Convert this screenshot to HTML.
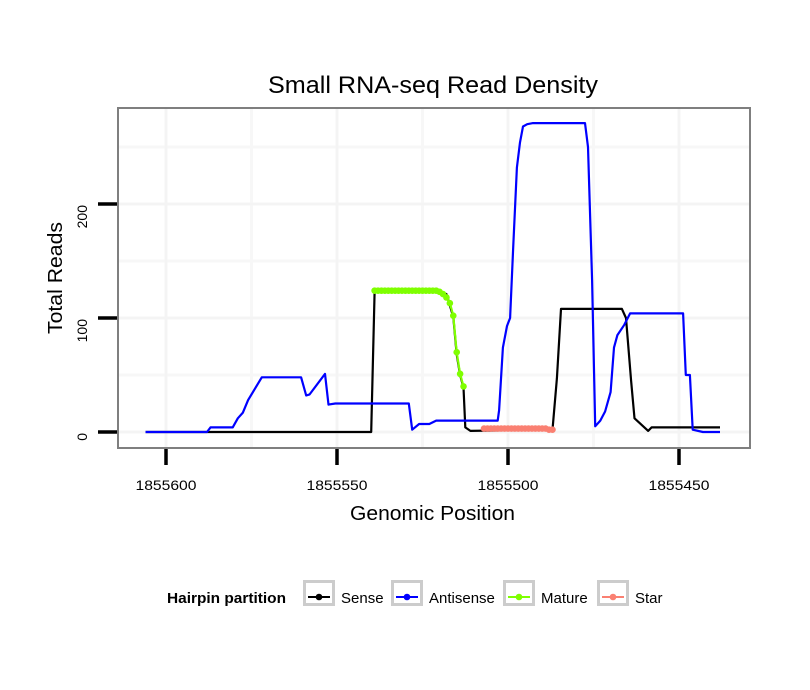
<!DOCTYPE html>
<html><head><meta charset="utf-8"><style>
body{margin:0;background:#fff;}
svg{display:block;font-family:"Liberation Sans",sans-serif;}
</style></head><body>
<svg id="chart" width="810" height="690"></svg>
<script>
const xTicks=[1855600,1855550,1855500,1855450];
const yTicks=[0,100,200];
const senseX=[1855606,1855540,1855539,1855520,1855518,1855517,1855516,1855515,1855514,1855513,1855512.5,1855511,1855487,1855485.7,1855484.5,1855466.7,1855465.5,1855464,1855463,1855459,1855458,1855438];
const senseY=[0,0,123,123,121,111,101,68,50,39,4,1,2,47,108,108,100,45,12,1,4,4];
const antiX=[1855606,1855588,1855587,1855580.5,1855579,1855577.5,1855576,1855572,1855560.5,1855559,1855558,1855553.5,1855552.5,1855550.5,1855529,1855528,1855526,1855523,1855521,1855503,1855502.6,1855501.5,1855500.3,1855499.4,1855498.5,1855497.4,1855496.5,1855495.6,1855494.4,1855492.7,1855477.5,1855476.6,1855475.4,1855474.5,1855473,1855471.6,1855470,1855469,1855468,1855466,1855464.3,1855448.8,1855448,1855446.8,1855446,1855443,1855438];
const antiY=[0,0,4,4,12,17,28,48,48,32,33,51,24,25,25,2,7,7,10,10,19,74,93,100,160,232,254,268,270,271,271,250,133,5,10,18,35,74,85,94,104,104,50,50,2,0,0];
const matureX=[1855539,1855538,1855537,1855536,1855535,1855534,1855533,1855532,1855531,1855530,1855529,1855528,1855527,1855526,1855525,1855524,1855523,1855522,1855521,1855520,1855519,1855518,1855517,1855516,1855515,1855514,1855513];
const matureY=[124,124,124,124,124,124,124,124,124,124,124,124,124,124,124,124,124,124,124,123,121,118,113,102,70,51,40];
const starX=[1855507,1855506,1855505,1855504,1855503,1855502,1855501,1855500,1855499,1855498,1855497,1855496,1855495,1855494,1855493,1855492,1855491,1855490,1855489,1855488,1855487];
const starY=[3,3,3,3,3,3,3,3,3,3,3,3,3,3,3,3,3,3,3,2,2];

const NS='http://www.w3.org/2000/svg';
const svg=document.getElementById('chart');
function sx(p){return 508+(1855500-p)*3.42;}
function sy(v){return 432-v*1.14;}
function mk(tag,attrs,parent){const e=document.createElementNS(NS,tag);for(const k in attrs)e.setAttribute(k,attrs[k]);(parent||svg).appendChild(e);return e;}

const panel=mk('rect',{x:118,y:108,width:632,height:340,fill:'#fff'});


[50,150,250].forEach(v=>{const g=mk('line',{x1:118,x2:750,y1:sy(v),y2:sy(v),stroke:'#f7f7f7','stroke-width':3});

});
[1855575,1855525,1855475].forEach(p=>{const g=mk('line',{x1:sx(p),x2:sx(p),y1:108,y2:448,stroke:'#f7f7f7','stroke-width':3});

});
yTicks.forEach(v=>{const g=mk('line',{x1:118,x2:750,y1:sy(v),y2:sy(v),stroke:'#f4f4f4','stroke-width':3});

});
xTicks.forEach(p=>{const g=mk('line',{x1:sx(p),x2:sx(p),y1:108,y2:448,stroke:'#f4f4f4','stroke-width':3});

});

function line(xs,ys,color,name){
  const d=xs.map((p,i)=>(i?'L':'M')+sx(p).toFixed(1)+','+sy(ys[i]).toFixed(1)).join('');
  const e=mk('path',{d:d,fill:'none',stroke:color,'stroke-width':2.2,'stroke-linejoin':'round'});
  
  
}
function pts(xs,ys,color,name){
  xs.forEach((p,i)=>{const c=mk('circle',{cx:sx(p),cy:sy(ys[i]),r:3.3,fill:color});
  
  });
}
line(senseX,senseY,'#000','sense-line');
line(antiX,antiY,'#0000ff','antisense-line');
line(matureX,matureY,'#7fff00','mature-line');
pts(matureX,matureY,'#7fff00','mature-point');
line(starX,starY,'#fa8072','star-line');
pts(starX,starY,'#fa8072','star-point');

const border=mk('rect',{x:118,y:108,width:632,height:340,fill:'none',stroke:'#7f7f7f','stroke-width':2});



yTicks.forEach(v=>{
  const t=mk('line',{x1:98,x2:117,y1:sy(v),y2:sy(v),stroke:'#000','stroke-width':3.5});
  
  
  const l=mk('text',{x:0,y:0,'font-size':14,'text-anchor':'end',transform:'translate(87,'+(sy(v)+1)+') rotate(-90)'});
  l.textContent=v;
  
  
});
xTicks.forEach(p=>{
  const t=mk('line',{x1:sx(p),x2:sx(p),y1:449,y2:465,stroke:'#000','stroke-width':3.5});
  
  
  const l=mk('text',{x:sx(p)-30.5,y:490,'font-size':14,textLength:61,lengthAdjust:'spacingAndGlyphs'});
  l.textContent=p;
  
  
});
const title=mk('text',{x:268,y:93,'font-size':24,textLength:330,lengthAdjust:'spacingAndGlyphs'});
title.textContent='Small RNA-seq Read Density';


const xt=mk('text',{x:350,y:520,'font-size':20,textLength:165,lengthAdjust:'spacingAndGlyphs'});
xt.textContent='Genomic Position';


const yt=mk('text',{x:-56,y:0,'font-size':20,textLength:112,lengthAdjust:'spacingAndGlyphs',transform:'translate(62,278) rotate(-90)'});
yt.textContent='Total Reads';



const lt=mk('text',{x:167,y:603,'font-size':15,'font-weight':'bold',textLength:119,lengthAdjust:'spacingAndGlyphs'});
lt.textContent='Hairpin partition';


const legNames=['Sense','Antisense','Mature','Star'];
const legColors=['#000','#0000ff','#7fff00','#fa8072'];
const legBox=[303,391,503,597];
legNames.forEach((n,i)=>{
  const g=mk('g',{});
  
  
  mk('rect',{x:legBox[i]+1.5,y:581.5,width:29,height:23,fill:'#fff',stroke:'#cccccc','stroke-width':3},g);
  mk('line',{x1:legBox[i]+5,x2:legBox[i]+27,y1:597,y2:597,stroke:legColors[i],'stroke-width':2},g);
  mk('circle',{cx:legBox[i]+16,cy:597,r:3.3,fill:legColors[i]},g);
  const t=mk('text',{x:legBox[i]+38,y:603,'font-size':15},g);
  t.textContent=n;
});
</script>
</body></html>
